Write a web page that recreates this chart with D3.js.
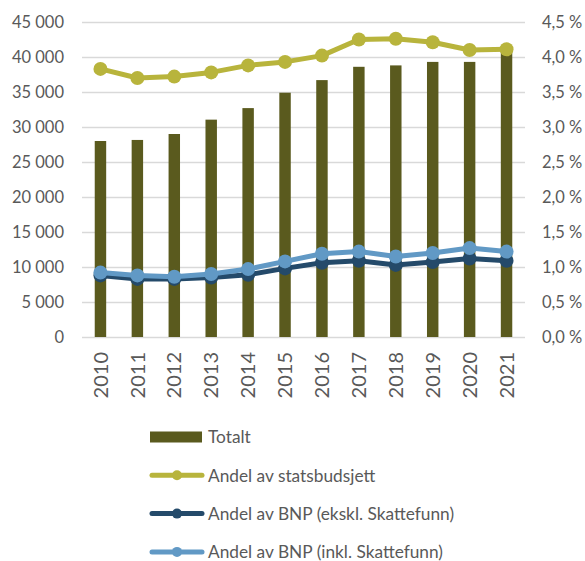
<!DOCTYPE html>
<html>
<head>
<meta charset="utf-8">
<script src="https://cdn.jsdelivr.net/npm/d3@7"></script>
<style>
  body { margin: 0; background: #fff; }
  svg text { font-family: Lato, "Open Sans", sans-serif; fill: #595959; }
</style>
</head>
<body>
<div id="chart"></div>
<script>
const years = ["2010", "2011", "2012", "2013", "2014", "2015", "2016", "2017", "2018", "2019", "2020", "2021"]
const totalt = [28000, 28150, 29000, 31050, 32700, 34900, 36700, 38600, 38800, 39300, 39300, 41000]
const andelStatsbudsjett = [3.83, 3.70, 3.72, 3.78, 3.88, 3.93, 4.02, 4.25, 4.26, 4.21, 4.10, 4.11]
const andelBnpEkskl = [0.88, 0.83, 0.83, 0.85, 0.89, 0.98, 1.06, 1.09, 1.03, 1.07, 1.12, 1.09]
const andelBnpInkl = [0.92, 0.88, 0.86, 0.90, 0.97, 1.08, 1.19, 1.22, 1.15, 1.20, 1.27, 1.22]
const leftTicks = [0, 5000, 10000, 15000, 20000, 25000, 30000, 35000, 40000, 45000]
const rightTicks = [0, 0.5, 1, 1.5, 2, 2.5, 3, 3.5, 4, 4.5]

const lineSeries = [
    { name: "Andel av statsbudsjett", values: andelStatsbudsjett, color: "#b8b43c" },
    { name: "Andel av BNP (ekskl. Skattefunn)", values: andelBnpEkskl, color: "#244a6a" },
    { name: "Andel av BNP (inkl. Skattefunn)", values: andelBnpInkl, color: "#6199c5" },
]

const dimensions = {
    width: 585,
    height: 561,
    margin: { top: 22, right: 60, bottom: 224, left: 82 },
}
dimensions.boundedWidth = dimensions.width - dimensions.margin.left - dimensions.margin.right
dimensions.boundedHeight = dimensions.height - dimensions.margin.top - dimensions.margin.bottom

const wrapper = d3.select("#chart")
    .append("svg")
    .attr("width", dimensions.width)
    .attr("height", dimensions.height)

const bounds = wrapper.append("g")
    .attr("transform", `translate(${dimensions.margin.left},${dimensions.margin.top})`)

const xScale = d3.scaleBand()
    .domain(years)
    .range([0, dimensions.boundedWidth])
    .paddingInner(0.69)
    .paddingOuter(0.345)
const yScale = d3.scaleLinear()
    .domain([0, 45000])
    .range([dimensions.boundedHeight, 0])
const y2Scale = d3.scaleLinear()
    .domain([0, 4.5])
    .range([dimensions.boundedHeight, 0])

// gridlines
bounds.append("g")
    .selectAll("line")
    .data(leftTicks)
    .join("line")
    .attr("x1", 0)
    .attr("x2", dimensions.boundedWidth)
    .attr("y1", d => Math.round(yScale(d)) + 0.5)
    .attr("y2", d => Math.round(yScale(d)) + 0.5)
    .attr("stroke", "#d9d9d9")
    .attr("stroke-width", 1.3)

// bars
bounds.append("g")
    .selectAll("rect")
    .data(totalt)
    .join("rect")
    .attr("x", (d, i) => xScale(years[i]))
    .attr("y", d => yScale(d))
    .attr("width", xScale.bandwidth())
    .attr("height", d => dimensions.boundedHeight - yScale(d))
    .attr("fill", "#5a5a1e")

// lines
const xCenter = i => xScale(years[i]) + xScale.bandwidth() / 2
const lineGenerator = d3.line()
    .x((d, i) => xCenter(i))
    .y(d => y2Scale(d))

lineSeries.forEach(s => {
    const g = bounds.append("g")
    g.append("path")
        .attr("d", lineGenerator(s.values))
        .attr("fill", "none")
        .attr("stroke", s.color)
        .attr("stroke-width", 5)
        .attr("stroke-linejoin", "round")
    g.selectAll("circle")
        .data(s.values)
        .join("circle")
        .attr("cx", (d, i) => xCenter(i))
        .attr("cy", d => y2Scale(d))
        .attr("r", 7)
        .attr("fill", s.color)
})

// axes
const yAxis = bounds.append("g")
    .call(d3.axisLeft(yScale).tickValues(leftTicks).tickSize(0).tickPadding(18)
        .tickFormat(d => d3.format(",")(d).replace(/,/g, " ")))
yAxis.select(".domain").remove()
yAxis.selectAll("text").style("font-size", "16.5px")

const y2Axis = bounds.append("g")
    .attr("transform", `translate(${dimensions.boundedWidth},0)`)
    .call(d3.axisRight(y2Scale).tickValues(rightTicks).tickSize(0).tickPadding(17)
        .tickFormat(d => d3.format(".1f")(d).replace(".", ",") + " %"))
y2Axis.select(".domain").remove()
y2Axis.selectAll("text").style("font-size", "16.5px")

const xAxis = bounds.append("g")
    .attr("transform", `translate(0,${dimensions.boundedHeight})`)
    .call(d3.axisBottom(xScale).tickSize(0))
xAxis.select(".domain").remove()
xAxis.selectAll("text")
    .attr("transform", "rotate(-90)")
    .attr("text-anchor", "end")
    .attr("x", -15)
    .attr("y", 0)
    .attr("dy", "0.36em")
    .style("font-size", "20px")

// legend
const legend = wrapper.append("g")
    .attr("transform", "translate(150,437)")

legend.append("rect")
    .attr("x", 0).attr("y", -5.5)
    .attr("width", 52).attr("height", 11)
    .attr("fill", "#5a5a1e")
legend.append("text")
    .attr("x", 58).attr("y", 0).attr("dy", "0.36em")
    .style("font-size", "17.3px")
    .text("Totalt")

lineSeries.forEach((s, i) => {
    const row = legend.append("g")
        .attr("transform", `translate(0,${(i + 1) * 38.3})`)
    row.append("line")
        .attr("x1", 2).attr("x2", 52)
        .attr("stroke", s.color)
        .attr("stroke-width", 5)
        .attr("stroke-linecap", "round")
    row.append("circle")
        .attr("cx", 27).attr("r", 5)
        .attr("fill", s.color)
    row.append("text")
        .attr("x", 58).attr("y", 0).attr("dy", "0.36em")
        .style("font-size", "17.3px")
        .text(s.name)
})
</script>
</body>
</html>
